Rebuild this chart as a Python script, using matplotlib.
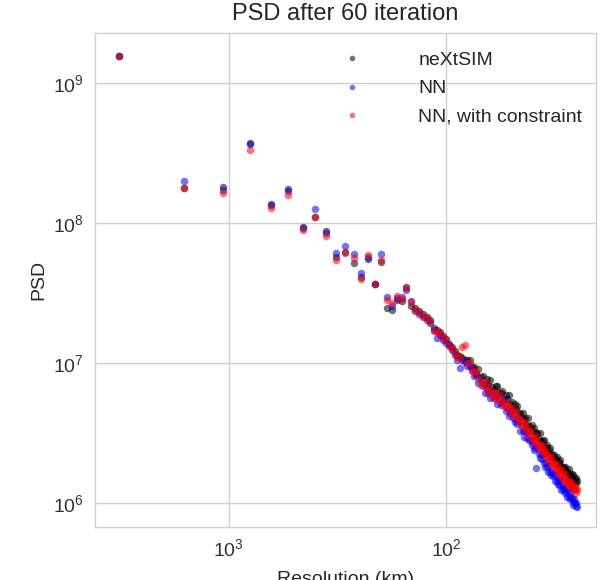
import numpy as np
import matplotlib
matplotlib.use("Agg")
import matplotlib.pyplot as plt

# Radial wavenumber index and domain size used to express each mode as a length scale
domain_km = 3200.0
wavenumber = np.arange(1, 129)
resolution_km = domain_km / wavenumber

psd_nextsim = [
    1.56e9, 1.77e8, 1.81e8, 3.73e8, 1.34e8, 1.75e8, 9.4e7, 1.10e8, 8.8e7, 5.7e7,
    6.2e7, 5.2e7, 4.1e7, 5.5e7, 3.7e7, 5.3e7, 2.47e7, 2.39e7, 2.82e7, 2.77e7,
    3.49e7, 2.55e7, 2.47e7, 2.35e7, 2.24e7, 2.13e7, 2.03e7, 1.78e7, 1.72e7, 1.66e7,
    1.56e7, 1.48e7, 1.37e7, 1.30e7, 1.22e7, 1.14e7, 1.12e7, 1.09e7, 1.05e7, 1.05e7,
    1.05e7, 9.36e6, 9.36e6, 8.35e6, 9.06e6, 7.94e6, 8.07e6, 7.08e6, 7.68e6, 6.96e6,
    7.62e6, 6.74e6, 6.41e6, 6.80e6, 6.85e6, 6.06e6, 6.11e6, 6.31e6, 5.58e6, 5.91e6,
    5.49e6, 5.91e6, 5.13e6, 5.26e6, 4.69e6, 5.13e6, 4.73e6, 4.93e6, 4.32e6, 4.39e6,
    4.05e6, 4.39e6, 3.95e6, 4.05e6, 3.58e6, 4.05e6, 3.55e6, 3.38e6, 3.58e6, 3.27e6,
    3.46e6, 3.01e6, 3.14e6, 3.16e6, 2.86e6, 3.14e6, 2.77e6, 2.62e6, 2.77e6, 2.80e6,
    2.47e6, 2.51e6, 2.58e6, 2.27e6, 2.41e6, 2.47e6, 2.17e6, 2.24e6, 2.13e6, 2.22e6,
    2.01e6, 2.06e6, 2.13e6, 1.87e6, 1.93e6, 1.96e6, 2.03e6, 1.78e6, 1.82e6, 1.74e6,
    1.82e6, 1.66e6, 1.81e6, 1.66e6, 1.69e6, 1.54e6, 1.74e6, 1.57e6, 1.61e6, 1.48e6,
    1.60e6, 1.49e6, 1.58e6, 1.44e6, 1.49e6, 1.51e6, 1.39e6, 1.43e6,
]

psd_nn = [
    1.56e9, 2.00e8, 1.72e8, 3.67e8, 1.37e8, 1.69e8, 9.2e7, 1.27e8, 8.5e7, 6.1e7,
    6.85e7, 6.0e7, 4.4e7, 5.7e7, 3.7e7, 6.0e7, 2.98e7, 2.55e7, 2.91e7, 2.95e7,
    3.30e7, 2.77e7, 2.35e7, 2.24e7, 2.13e7, 2.03e7, 1.93e7, 1.72e7, 1.51e7, 1.58e7,
    1.46e7, 1.39e7, 1.34e7, 1.24e7, 1.14e7, 1.05e7, 9.21e6, 1.05e7, 1.02e7, 9.52e6,
    9.52e6, 8.91e6, 8.07e6, 8.21e6, 7.20e6, 7.56e6, 6.85e6, 6.11e6, 6.63e6, 6.11e6,
    5.67e6, 6.21e6, 5.62e6, 5.77e6, 5.09e6, 5.58e6, 5.01e6, 5.18e6, 5.40e6, 4.54e6,
    4.81e6, 4.18e6, 4.43e6, 4.54e6, 4.05e6, 3.82e6, 4.01e6, 3.67e6, 3.85e6, 3.27e6,
    3.61e6, 3.27e6, 2.98e6, 3.27e6, 2.93e6, 3.21e6, 2.82e6, 2.82e6, 2.58e6, 2.68e6,
    2.41e6, 2.47e6, 1.78e6, 2.47e6, 2.24e6, 2.08e6, 2.24e6, 2.05e6, 2.24e6, 1.92e6,
    1.81e6, 1.96e6, 1.82e6, 1.66e6, 1.86e6, 1.66e6, 1.58e6, 1.69e6, 1.56e6, 1.62e6,
    1.43e6, 1.58e6, 1.44e6, 1.37e6, 1.46e6, 1.34e6, 1.48e6, 1.24e6, 1.33e6, 1.25e6,
    1.31e6, 1.18e6, 1.22e6, 1.28e6, 1.10e6, 1.19e6, 1.11e6, 1.19e6, 1.07e6, 1.10e6,
    1.09e6, 1.01e6, 9.68e5, 1.07e6, 9.92e5, 9.52e5, 1.00e6, 9.44e5,
]

psd_nn_constraint = [
    1.56e9, 1.77e8, 1.64e8, 3.32e8, 1.28e8, 1.58e8, 8.9e7, 1.10e8, 8.1e7, 5.45e7,
    6.1e7, 5.6e7, 3.98e7, 5.9e7, 3.7e7, 5.45e7, 2.82e7, 2.68e7, 3.01e7, 2.85e7,
    3.43e7, 2.73e7, 2.39e7, 2.31e7, 2.17e7, 2.10e7, 1.96e7, 1.69e7, 1.66e7, 1.64e7,
    1.51e7, 1.46e7, 1.32e7, 1.26e7, 1.18e7, 1.10e7, 1.09e7, 1.30e7, 1.34e7, 1.00e7,
    1.00e7, 8.77e6, 8.77e6, 8.63e6, 7.68e6, 6.96e6, 7.32e6, 7.32e6, 6.41e6, 6.74e6,
    6.16e6, 5.72e6, 6.21e6, 5.86e6, 5.44e6, 5.96e6, 5.26e6, 5.44e6, 4.97e6, 4.93e6,
    5.22e6, 4.85e6, 4.43e6, 4.77e6, 4.54e6, 4.15e6, 4.50e6, 4.05e6, 3.85e6, 3.98e6,
    3.55e6, 3.73e6, 3.76e6, 3.38e6, 3.41e6, 3.06e6, 3.32e6, 3.27e6, 2.98e6, 2.82e6,
    2.93e6, 3.01e6, 2.66e6, 2.68e6, 2.47e6, 2.66e6, 2.47e6, 2.58e6, 2.31e6, 2.33e6,
    2.39e6, 2.13e6, 2.15e6, 2.20e6, 1.95e6, 2.06e6, 2.13e6, 1.90e6, 1.93e6, 1.80e6,
    1.92e6, 1.78e6, 1.87e6, 1.64e6, 1.72e6, 1.72e6, 1.61e6, 1.75e6, 1.52e6, 1.60e6,
    1.49e6, 1.61e6, 1.41e6, 1.46e6, 1.41e6, 1.47e6, 1.33e6, 1.40e6, 1.32e6, 1.41e6,
    1.31e6, 1.25e6, 1.34e6, 1.28e6, 1.23e6, 1.28e6, 1.18e6, 1.23e6,
]

series_labels = ["neXtSIM", "NN", "NN, with constraint"]
series_colors = ["black", "blue", "red"]

plt.rcParams["font.family"] = ["Liberation Sans", "DejaVu Sans"]
plt.rcParams["mathtext.fontset"] = "custom"
plt.rcParams["mathtext.rm"] = "Liberation Sans"
plt.rcParams["mathtext.it"] = "Liberation Sans:italic"

fig = plt.figure(figsize=(6.1, 5.8), dpi=100)
ax = fig.add_axes([0.1557, 0.0914, 0.8213, 0.8517])
ax.set_facecolor("white")

for values, label, color in zip([psd_nextsim, psd_nn, psd_nn_constraint],
                                series_labels, series_colors):
    ax.plot(resolution_km, values, "o", color=color, alpha=0.55,
            markersize=5.4, markeredgewidth=0, label=label)

ax.set_xscale("log")
ax.set_yscale("log")
ax.set_xlim(4120, 20.5)
ax.set_ylim(6.74e5, 2.28e9)

ax.grid(True, which="major", color="#d0d0d0", linewidth=1.0)
ax.grid(False, which="minor")
ax.set_axisbelow(True)
for spine in ax.spines.values():
    spine.set_color("#d0d0d0")
    spine.set_linewidth(1.0)
ax.tick_params(which="both", length=0, labelsize=14, colors="#333333", pad=8)

ax.set_title("PSD after 60 iteration", fontsize=17, color="#262626", pad=9.5)
ax.set_ylabel("PSD", fontsize=14, color="#262626", labelpad=4)
ax.set_xlabel("Resolution (km)", fontsize=14, color="#262626", labelpad=8)

leg = ax.legend(loc="upper right", bbox_to_anchor=(1.0, 0.99), frameon=False,
                fontsize=14, markerscale=0.75, handlelength=2.0,
                handletextpad=2.4, labelspacing=0.55, borderaxespad=0.3)
for txt in leg.get_texts():
    txt.set_color("#262626")

fig.savefig("out.png", dpi=100)
